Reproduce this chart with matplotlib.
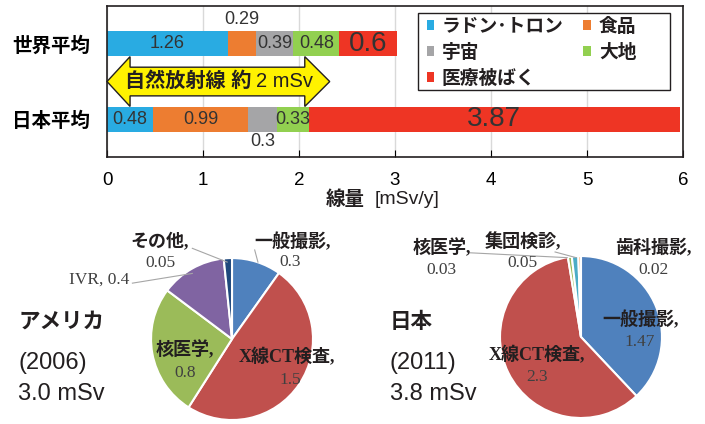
import matplotlib
matplotlib.use("Agg")
import matplotlib.pyplot as plt
from matplotlib.patches import Polygon, Rectangle

plt.rcParams['font.family'] = ['Liberation Sans', 'Noto Sans CJK JP']
plt.rcParams['text.color'] = '#231f20'

# annual dose by source (mSv/y)
regions = ['世界平均', '日本平均']
sources = ['ラドン･トロン', '食品', '宇宙', '大地', '医療被ばく']
world_dose = [1.26, 0.29, 0.39, 0.48, 0.6]
japan_dose = [0.48, 0.99, 0.3, 0.33, 3.87]
source_colors = ['#29abe2', '#ed7d31', '#a5a5a7', '#92d050', '#ee3524']
xticks = [0, 1, 2, 3, 4, 5, 6]

# medical exposure breakdown
usa_labels = ['一般撮影', 'X線CT検査', '核医学', 'IVR', 'その他']
usa_values = [0.3, 1.5, 0.8, 0.4, 0.05]
usa_colors = ['#4f81bd', '#c0504d', '#9bbb59', '#8064a2', '#1f497d']
jpn_labels = ['一般撮影', 'X線CT検査', '核医学', '集団検診', '歯科撮影']
jpn_values = [1.47, 2.3, 0.03, 0.05, 0.02]
jpn_colors = ['#4f81bd', '#c0504d', '#9bbb59', '#4bacc6', '#f79646']

fig = plt.figure(figsize=(7.05, 4.24), dpi=100)

# ---- stacked bars
ax = fig.add_axes([0.1518, 0.6297, 0.817, 0.356])
ypos = [1, 0]
for row, dose in zip(ypos, [world_dose, japan_dose]):
    left = 0
    for i, v in enumerate(dose):
        ax.barh(row, v, left=left, height=0.33, color=source_colors[i],
                label=sources[i] if row == 1 else None, zorder=2)
        fs = 20 if i == 4 else 13
        cx = left + v / 2
        if row == 1 and i == 1:
            ty = row + 0.32     # too narrow, put above
        elif row == 0 and i == 2:
            ty = row - 0.3      # too narrow, put below
        else:
            ty = row
        ax.text(cx, ty, f"{v:g}", ha='center', va='center', fontsize=fs,
                color='#333333', zorder=3)
        left += v

ax.set_xlim(0, 6)
ax.set_ylim(-0.5, 1.5)
ax.set_xticks(xticks)
ax.set_yticks(ypos)
ax.set_yticklabels(regions, fontsize=14, fontweight='bold')
ax.tick_params(axis='y', length=0, pad=12)
ax.tick_params(axis='x', direction='in', length=5, pad=11, labelsize=13.5)
ax.grid(axis='x', color='#d9d9d9', lw=1, zorder=0)
for s in ax.spines.values():
    s.set_color('#231f20')
    s.set_linewidth(1.2)

# natural radiation arrow
arrow_pts = [(0, 0.5), (0.24, 0.83), (0.24, 0.69), (2.06, 0.69), (2.06, 0.83),
             (2.32, 0.5), (2.06, 0.17), (2.06, 0.31), (0.24, 0.31), (0.24, 0.17)]
ax.add_patch(Polygon(arrow_pts, closed=True, facecolor='#fff200',
                     edgecolor='#231f20', lw=1, zorder=4, clip_on=False))
ax.text(1.50, 0.5, '自然放射線 約', ha='right', va='center', fontsize=14.5,
        fontweight='bold', zorder=5)
ax.text(1.55, 0.5, '2 mSv', ha='left', va='center', fontsize=14.5, zorder=5)

# legend inside a wider fixed frame
ax.add_patch(Rectangle((0.540, 0.444), 0.437, 0.510, transform=ax.transAxes,
                       facecolor='white', edgecolor='#231f20', lw=1, zorder=6))
h, l = ax.get_legend_handles_labels()
order = [0, 2, 4, 1, 3]
leg = ax.legend([h[k] for k in order], [l[k] for k in order], ncol=2,
                loc='upper left', bbox_to_anchor=(0.545, 0.958),
                borderaxespad=0, frameon=False,
                prop={'size': 13.5, 'weight': 'bold'}, handlelength=0.42,
                handleheight=0.42, handletextpad=0.4, columnspacing=1.05,
                labelspacing=0.42, borderpad=0.3)
leg.set_zorder(7)

fig.text(0.518, 0.529, '線量', ha='right', va='center', fontsize=14,
         fontweight='bold')
fig.text(0.532, 0.529, '[mSv/y]', ha='left', va='center', fontsize=14)


# ---- pies
def draw_pie(rect, values, colors, labels, label_pos, value_pos, leaders):
    pax = fig.add_axes(rect)
    pax.pie(values, colors=colors, startangle=90, counterclock=False,
            wedgeprops={'edgecolor': 'white', 'linewidth': 1.5})
    pax.set_xlim(-1, 1)
    pax.set_ylim(-1, 1)
    pax.set_aspect('equal')
    pax.axis('off')
    for (x0, y0), (x1, y1) in leaders:
        pax.plot([x0, x1], [y0, y1], color='#a6a6a6', lw=0.8, clip_on=False)
    for name, v, lp, vp in zip(labels, values, label_pos, value_pos):
        if vp is None:
            pax.text(lp[0], lp[1], f"{name}, {v:g}", ha='center', va='center',
                     fontsize=12.5, color='#404040',
                     family=['Liberation Serif', 'Noto Sans CJK JP'],
                     clip_on=False)
            continue
        pax.text(lp[0], lp[1], f"{name},", ha='center', va='center',
                 fontsize=13, fontweight='bold',
                 family=['Liberation Serif', 'Noto Sans CJK JP'], clip_on=False)
        pax.text(vp[0], vp[1], f"{v:g}", ha='center', va='center',
                 fontsize=12.5, color='#404040', family='Liberation Serif',
                 clip_on=False)
    return pax


draw_pie([0.2142, 0.0094, 0.2298, 0.382], usa_values, usa_colors, usa_labels,
         [(0.75, 1.20), (0.68, -0.22), (-0.58, -0.14), (-1.64, 0.73), (-0.89, 1.20)],
         [(0.72, 0.95), (0.72, -0.51), (-0.58, -0.42), None, (-0.89, 0.94)],
         [((0.28, 1.10), (0.32, 0.95)), ((-1.23, 0.69), (-0.49, 0.81)),
          ((-0.49, 1.12), (-0.06, 0.95))])
draw_pie([0.7092, 0.01415, 0.2298, 0.382], jpn_values, jpn_colors, jpn_labels,
         [(0.73, 0.21), (-0.54, -0.22), (-1.72, 1.10), (-0.72, 1.17), (0.89, 1.10)],
         [(0.73, -0.06), (-0.54, -0.49), (-1.72, 0.83), (-0.72, 0.91), (0.89, 0.83)],
         [((-1.37, 1.04), (-0.17, 0.98)), ((-0.32, 1.05), (-0.06, 0.98))])

# country captions
for x, lines in [(0.026, ['アメリカ', '(2006)', '3.0 mSv']),
                 (0.553, ['日本', '(2011)', '3.8 mSv'])]:
    fig.text(x, 1 - 322 / 424, lines[0], fontsize=15.5, fontweight='bold',
             va='center')
    fig.text(x, 1 - 363 / 424, lines[1], fontsize=17, va='center')
    fig.text(x, 1 - 394 / 424, lines[2], fontsize=17, va='center')

fig.savefig('out.png', dpi=100)
